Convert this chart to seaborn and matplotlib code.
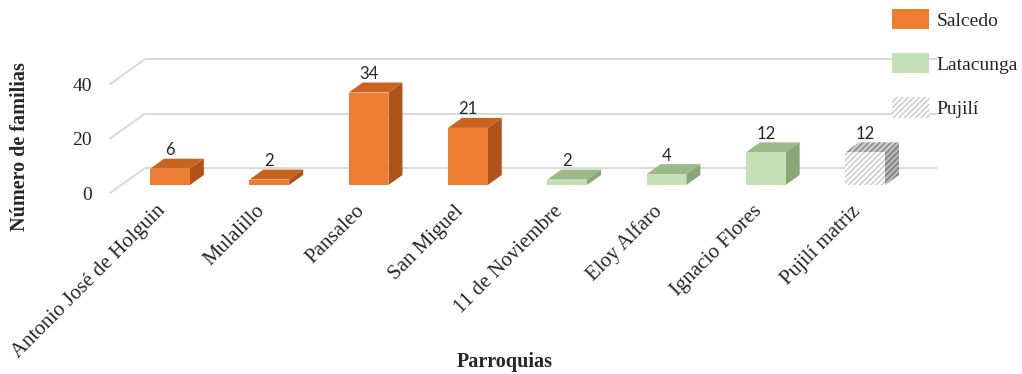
import numpy as np
import pandas as pd
import matplotlib
matplotlib.use("Agg")
import matplotlib.pyplot as plt
import matplotlib.transforms as mtransforms
from matplotlib.patches import Polygon, Patch
import seaborn as sns

# Families per parish, grouped by canton
parroquias = ["Antonio José de Holguin", "Mulalillo", "Pansaleo", "San Miguel",
              "11 de Noviembre", "Eloy Alfaro", "Ignacio Flores", "Pujilí matriz"]
familias = [6, 2, 34, 21, 2, 4, 12, 12]
cantones = ["Salcedo", "Salcedo", "Salcedo", "Salcedo",
            "Latacunga", "Latacunga", "Latacunga", "Pujilí"]
niveles = ["Salcedo", "Latacunga", "Pujilí"]
ticks_y = [0, 20, 40]

df = pd.DataFrame({"Parroquia": parroquias, "Familias": familias, "Canton": cantones})

front = {"Salcedo": "#ED7D31", "Latacunga": "#C5E0B4", "Pujilí": "#FFFFFF"}
top = {"Salcedo": "#C8641F", "Latacunga": "#9CB98A", "Pujilí": "#C9C9C9"}
side = {"Salcedo": "#AE541A", "Latacunga": "#88A676", "Pujilí": "#B5B5B5"}

sns.set_theme(style="white")
plt.rcParams["font.family"] = ["Liberation Serif", "DejaVu Serif"]
plt.rcParams["hatch.linewidth"] = 0.8

fig = plt.figure(figsize=(10.22, 3.74), dpi=100)
# axes box in pixels: x 100..960, y 40..200 (from top)
ax = fig.add_axes([100 / 1022, (374 - 200) / 374, 860 / 1022, 160 / 374])

px_x = 99.3      # pixels per category
px_y = 2.72      # pixels per family
xlim = ((100 - 170) / px_x, (960 - 170) / px_x)
ylim = ((185 - 200) / px_y, (185 - 40) / px_y)
ax.set_xlim(*xlim)
ax.set_ylim(*ylim)

# pseudo-3D geometry (data units)
dx_bar, dy_bar = 14 / px_x, 10 / px_y          # depth of each bar
wall_front_x, wall_front_y = (110 - 170) / px_x, -8 / px_y
wall_back_x, wall_back_y = (145 - 170) / px_x, 17 / px_y
wall_right_x = (937 - 170) / px_x

grid_c = "#D9D9D9"
for v in ticks_y:
    ax.plot([wall_back_x, wall_right_x], [wall_back_y + v, wall_back_y + v],
            color=grid_c, lw=1.4, zorder=0, solid_capstyle="butt")
    ax.plot([wall_front_x, wall_back_x], [wall_front_y + v, wall_back_y + v],
            color=grid_c, lw=1.4, zorder=0)

sns.barplot(data=df, x="Parroquia", y="Familias", hue="Canton", hue_order=niveles,
            palette=front, dodge=False, width=0.4, ax=ax, legend=False,
            saturation=1, linewidth=0, zorder=3)
ax.set_xlim(*xlim)
ax.set_ylim(*ylim)

for nivel, cont in zip(niveles, ax.containers):
    for bar in cont:
        h = bar.get_height()
        if not np.isfinite(h) or h <= 0:
            continue
        x0 = bar.get_x()
        w = bar.get_width()
        x1 = x0 + w
        hatch = "//////" if nivel == "Pujilí" else None
        if hatch:
            bar.set_hatch(hatch)
            bar.set_edgecolor("#BDBDBD")
            bar.set_linewidth(0)
        top_poly = Polygon([(x0, h), (x1, h), (x1 + dx_bar, h + dy_bar), (x0 + dx_bar, h + dy_bar)],
                           closed=True, facecolor=top[nivel], lw=0, zorder=2,
                           hatch=hatch, edgecolor="#7A7A7A" if hatch else "none")
        side_poly = Polygon([(x1, 0), (x1 + dx_bar, dy_bar), (x1 + dx_bar, h + dy_bar), (x1, h)],
                            closed=True, facecolor=side[nivel], lw=0, zorder=2,
                            hatch=hatch, edgecolor="#6E6E6E" if hatch else "none")
        ax.add_patch(top_poly)
        ax.add_patch(side_poly)
        ax.text(x0 + w / 2, h + dy_bar + 0.2, f"{h:g}", ha="center", va="bottom",
                fontsize=12, family=["Lato", "DejaVu Sans"], color="#262626", zorder=5)

# y tick labels sit on the front edge of the side wall
ax.set_yticks([wall_front_y + v for v in ticks_y])
ax.set_yticklabels([str(v) for v in ticks_y], fontsize=14, color="#262626")
ax.tick_params(axis="y", length=0, pad=6)

ax.set_xticks(range(len(parroquias)))
ax.set_xticklabels(parroquias, rotation=45, ha="right", va="center", rotation_mode="anchor",
                   fontsize=15, color="#262626")
ax.tick_params(axis="x", length=0, pad=6)
shift = mtransforms.ScaledTranslation(-7 / 100, 0, fig.dpi_scale_trans)
for lab in ax.get_xticklabels():
    lab.set_transform(lab.get_transform() + shift)

ax.set_xlabel("")
ax.set_ylabel("")
for s in ax.spines.values():
    s.set_visible(False)

fig.text(20 / 1022, 1 - 147 / 374, "Número de familias", rotation=90, ha="center", va="center",
         fontsize=14.5, fontweight="bold", color="#262626")
fig.text(505 / 1022, 1 - 362 / 374, "Parroquias", ha="center", va="center",
         fontsize=14.5, fontweight="bold", color="#262626")

handles = [Patch(facecolor=front["Salcedo"], edgecolor="none", label="Salcedo"),
           Patch(facecolor=front["Latacunga"], edgecolor="none", label="Latacunga"),
           Patch(facecolor="white", edgecolor="#BDBDBD", hatch="//////", lw=0, label="Pujilí")]
fig.legend(handles=handles, loc="upper left", bbox_to_anchor=(884 / 1022, 1 - 1 / 374),
           frameon=False, fontsize=14, handlelength=1.9, handleheight=1.25,
           labelspacing=1.2, handletextpad=0.4, borderaxespad=0)

fig.savefig("out.png", dpi=100)
